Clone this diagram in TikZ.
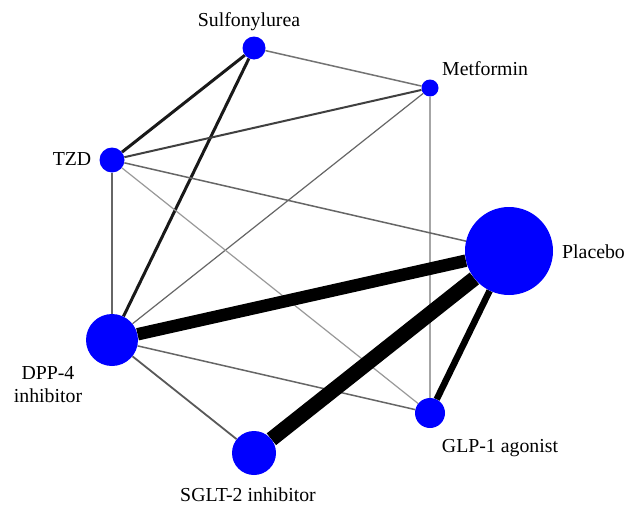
\documentclass[tikz,border=0pt]{standalone}
\usepackage{fontspec}
\setmainfont{Liberation Serif}
\definecolor{nodeblue}{RGB}{0,0,255}
\pgfdeclarelayer{bottom}
\pgfdeclarelayer{edges}
\pgfsetlayers{bottom,edges,main}
\tikzset{
  trt/.style={circle, fill=nodeblue, inner sep=0pt, draw=none},
  lab/.style={font=\fontsize{19.8}{23}\selectfont, text=black, inner sep=0pt, align=center},
  e/.style={line cap=butt},
}
\begin{document}
\begin{tikzpicture}[x=1pt,y=-1pt]
\begin{pgfonlayer}{bottom}
\fill[white] (0,0) rectangle (627,506);
\end{pgfonlayer}
\useasboundingbox (0,0) rectangle (627,506);
% treatments
\node[trt, minimum size=23pt] (sul) at (254,48) {};
\node[trt, minimum size=17pt] (met) at (430,88) {};
\node[trt, minimum size=25pt] (tzd) at (112,160) {};
\node[trt, minimum size=88pt] (pla) at (509,251) {};
\node[trt, minimum size=52pt] (dpp) at (112,340) {};
\node[trt, minimum size=30pt] (glp) at (430,413) {};
\node[trt, minimum size=44pt] (sgl) at (254,453) {};
% labels
\node[lab] (lsul) at (249,22) {Sulfonylurea};
\node[lab, anchor=west] (lmet) at (442,69) {Metformin};
\node[lab] (ltzd) at (72,159) {TZD};
\node[lab, anchor=west] (lpla) at (562,252) {Placebo};
\node[lab] (ldpp) at (48,385) {DPP-4\\inhibitor};
\node[lab] (lglp) at (500,448) {GLP-1 agonist};
\node[lab] (lsgl) at (248,495) {SGLT-2 inhibitor};
% comparisons
\begin{pgfonlayer}{edges}
\draw[e, line width=1.5pt, black!55] (sul) -- (met);
\draw[e, line width=3pt, black!90] (sul) -- (tzd);
\draw[e, line width=3pt, black!90] (sul) -- (dpp);
\draw[e, line width=2pt, black!75] (met) -- (tzd);
\draw[e, line width=1.2pt, black!60] (met) -- (dpp);
\draw[e, line width=2.5pt, black!35] (met) -- (glp);
\draw[e, line width=1.5pt, black!60] (tzd) -- (pla);
\draw[e, line width=1.2pt, black!40] (tzd) -- (glp);
\draw[e, line width=2pt, black!60] (tzd) -- (dpp);
\draw[e, line width=12.5pt, black] (dpp) -- (pla);
\draw[e, line width=1.5pt, black!60] (dpp) -- (glp);
\draw[e, line width=1.8pt, black!65] (dpp) -- (sgl);
\draw[e, line width=15pt, black] (sgl) -- (pla);
\draw[e, line width=6.5pt, black] (pla) -- (glp);
\end{pgfonlayer}
\end{tikzpicture}
\end{document}
